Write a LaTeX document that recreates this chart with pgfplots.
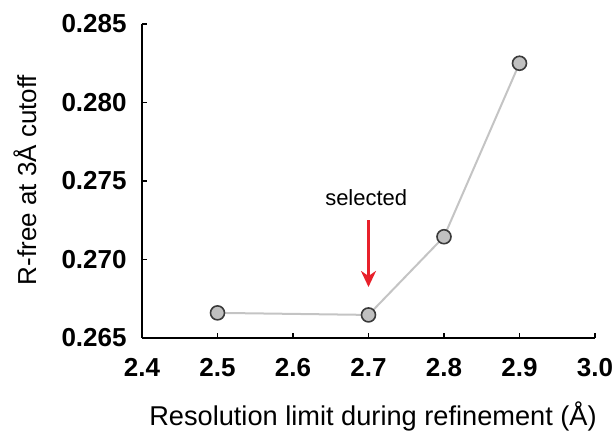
\documentclass[border=0pt]{standalone}
\usepackage{pgfplots}
\pgfplotsset{compat=1.18}
\usepackage{fontspec}
\setmainfont{Liberation Sans}
\usetikzlibrary{arrows.meta}
\definecolor{linegray}{HTML}{C4C4C4}
\definecolor{markgray}{HTML}{C0C0C0}
\definecolor{markedge}{HTML}{3A3A3A}
\definecolor{arrowred}{HTML}{E8202A}
\begin{document}
\begin{tikzpicture}
\begin{axis}[
  at={(0,0)}, anchor=south west,
  scale only axis,
  width=226.5pt, height=157pt,
  xmin=2.4, xmax=3.0, ymin=0.265, ymax=0.285,
  axis x line*=bottom, axis y line*=left,
  axis line style={line width=1pt, black, -},
  xtick={2.4,2.5,...,3.0},
  ytick={0.265,0.270,0.275,0.280,0.285},
  tick align=inside,
  major tick length=2.5pt,
  tick style={line width=0.8pt, black},
  /pgf/number format/assume math mode=true,
  xticklabel={\pgfmathprintnumber[fixed,fixed zerofill,precision=1]{\tick}},
  yticklabel={\pgfmathprintnumber[fixed,fixed zerofill,precision=3]{\tick}},
  scaled y ticks=false,
  ticklabel style={font=\fontsize{13pt}{15pt}\selectfont\bfseries},
  xticklabel style={anchor=north, inner sep=0pt, yshift=-10pt},
  yticklabel style={anchor=east, inner sep=0pt, xshift=-7.5pt},
  xlabel={Resolution limit during refinement (Å)},
  ylabel={R-free at 3Å cutoff},
  xlabel style={font=\fontsize{13.6pt}{15pt}\selectfont, at={(axis description cs:0.51,-0.280)}, anchor=base, inner sep=0pt},
  ylabel style={font=\fontsize{13pt}{15pt}\selectfont, at={(axis description cs:-0.234,0.503)}, anchor=base, inner sep=0pt},
  clip=false,
]
\addplot[color=linegray, line width=1pt, mark=*, mark size=3.5pt,
  mark options={fill=markgray, draw=markedge, line width=0.8pt}]
  coordinates {(2.5,0.26660) (2.7,0.26647) (2.8,0.27145) (2.9,0.28250)};
\draw[arrowred, line width=1.2pt, -{Stealth[length=8pt,width=7.5pt,inset=2.5pt]}]
  (axis cs:2.7,0.2725) -- (axis cs:2.7,0.26825);
\node[font=\fontsize{11pt}{13pt}\selectfont, inner sep=0pt] at (axis cs:2.697,0.27392) {selected};
\end{axis}
\pgfresetboundingbox
\path[use as bounding box] (-71pt,-47pt) rectangle (236pt,169pt);
\end{tikzpicture}
\end{document}
